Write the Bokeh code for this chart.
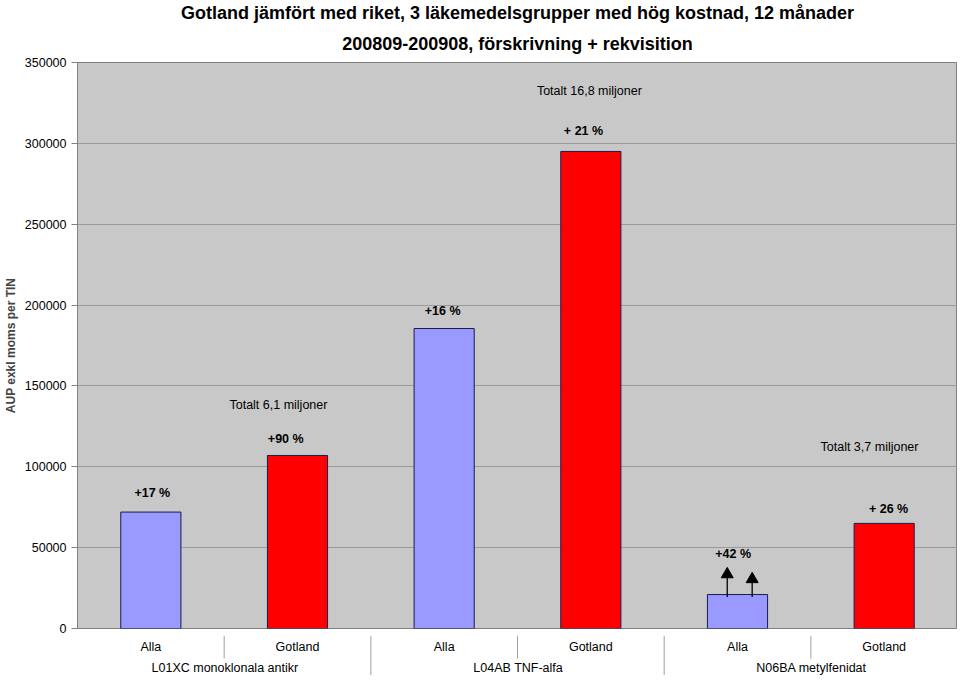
from bokeh.plotting import figure
from bokeh.layouts import column
from bokeh.models import (FactorRange, FixedTicker, PrintfTickFormatter, ColumnDataSource, Title,
                          Range1d)
from bokeh.embed import file_html
from bokeh.resources import INLINE
from bokeh.core.properties import value

groups = ["L01XC monoklonala antikr", "L04AB TNF-alfa", "N06BA metylfenidat"]
subs = ["Alla", "Gotland"]
values = [72000, 107000, 185500, 295000, 21000, 65000]
colors = ["#9999FF", "#FF0000", "#9999FF", "#FF0000", "#9999FF", "#FF0000"]
yticks = [0, 50000, 100000, 150000, 200000, 250000, 300000, 350000]

ann_text = ["+17 %", "Totalt 6,1 miljoner", "+90 %", "+16 %", "Totalt 16,8 miljoner",
            "+ 21 %", "+42 %", "Totalt 3,7 miljoner", "+ 26 %"]
ann_x = [0.51, 1.37, 1.42, 2.49, 3.49, 3.45, 4.47, 5.40, 5.53]
ann_y = [83500, 138500, 116900, 196600, 332200, 307400, 45800, 112500, 73600]
ann_bold = [True, False, True, True, False, True, True, False, True]

arrow_x = [4.43, 4.60]
arrow_y0 = [19500, 19500]
arrow_y1 = [33500, 30500]

factors = [(g, s) for g in groups for s in subs]

FONT = "Liberation Sans"

xr = FactorRange(*factors, factor_padding=0, group_padding=0, range_padding=0)

p = figure(x_range=xr, y_range=(0, 350000),
           frame_width=880, frame_height=566,
           min_border_left=64, min_border_right=0, min_border_top=55, min_border_bottom=7,
           output_backend="svg", toolbar_location=None)

p.title = None
p.add_layout(Title(text="200809-200908, förskrivning + rekvisition", align="center",
                   text_font=FONT, text_font_size="18px", text_font_style="bold",
                   text_color="black", standoff=18), "above")
p.add_layout(Title(text="Gotland jämfört med riket, 3 läkemedelsgrupper med hög kostnad, 12 månader",
                   align="center", text_font=FONT, text_font_size="18px",
                   text_font_style="bold", text_color="black", standoff=0), "above")

p.background_fill_color = "#C8C8C8"
p.border_fill_color = "white"
p.outline_line_color = "#808080"

src = ColumnDataSource(dict(x=factors, top=values, color=colors))
p.vbar(x="x", top="top", width=0.41, source=src, fill_color="color",
       line_color="#1a1a50", line_width=1)

for t, x, y, b in zip(ann_text, ann_x, ann_y, ann_bold):
    p.text(x=[x], y=[y], text=[t], text_align="center", text_baseline="middle",
           text_font=value(FONT), text_font_size="12.5px",
           text_font_style="bold" if b else "normal", text_color="black")

p.segment(x0=arrow_x, y0=arrow_y0, x1=arrow_x, y1=arrow_y1, line_color="black", line_width=1.3)
p.scatter(x=arrow_x, y=arrow_y1, marker="triangle", size=12, fill_color="black",
          line_color="black")

p.xgrid.grid_line_color = None
p.ygrid.grid_line_color = "#9a9a9a"
p.ygrid.ticker = FixedTicker(ticks=yticks)
p.xaxis.visible = False

p.yaxis.ticker = FixedTicker(ticks=yticks)
p.yaxis.formatter = PrintfTickFormatter(format="%d")
p.yaxis.minor_tick_line_color = None
p.yaxis.major_tick_in = 0
p.yaxis.major_tick_out = 6
p.yaxis.axis_line_color = "#808080"
p.yaxis.major_tick_line_color = "#808080"
p.yaxis.major_label_text_font = FONT
p.yaxis.major_label_text_font_size = "12.5px"
p.yaxis.major_label_text_color = "black"
p.yaxis.axis_label = "AUP exkl moms per TIN"
p.yaxis.axis_label_text_font = FONT
p.yaxis.axis_label_text_font_size = "12px"
p.yaxis.axis_label_text_font_style = "bold"
p.yaxis.axis_label_standoff = 4

# category labels strip below the plot
q = figure(x_range=xr, y_range=Range1d(40, 0),
           frame_width=880, frame_height=40,
           min_border_left=64, min_border_right=0, min_border_top=0, min_border_bottom=0,
           output_backend="svg", toolbar_location=None)
q.axis.visible = False
q.grid.grid_line_color = None
q.outline_line_color = None
q.background_fill_color = "white"
q.border_fill_color = "white"

q.text(x=factors, y=[11] * len(factors), text=[s for g, s in factors], text_align="center",
       text_baseline="middle", text_font=value(FONT), text_font_size="12.5px",
       text_color="black")
q.text(x=[(g, "Alla") for g in groups], y=[32] * len(groups), text=groups,
       text_align="center", text_baseline="middle", text_font=value(FONT),
       text_font_size="12.5px", text_color="black", x_offset=74)

sep_short = [1, 3, 5]
sep_long = [2, 4]
q.segment(x0=sep_short, x1=sep_short, y0=[0] * 3, y1=[23] * 3, line_color="#a0a0a0", line_width=1)
q.segment(x0=sep_long, x1=sep_long, y0=[0] * 2, y1=[40] * 2, line_color="#a0a0a0", line_width=1)

layout = column(p, q, spacing=0)
open("out.html", "w").write(file_html(layout, INLINE))
